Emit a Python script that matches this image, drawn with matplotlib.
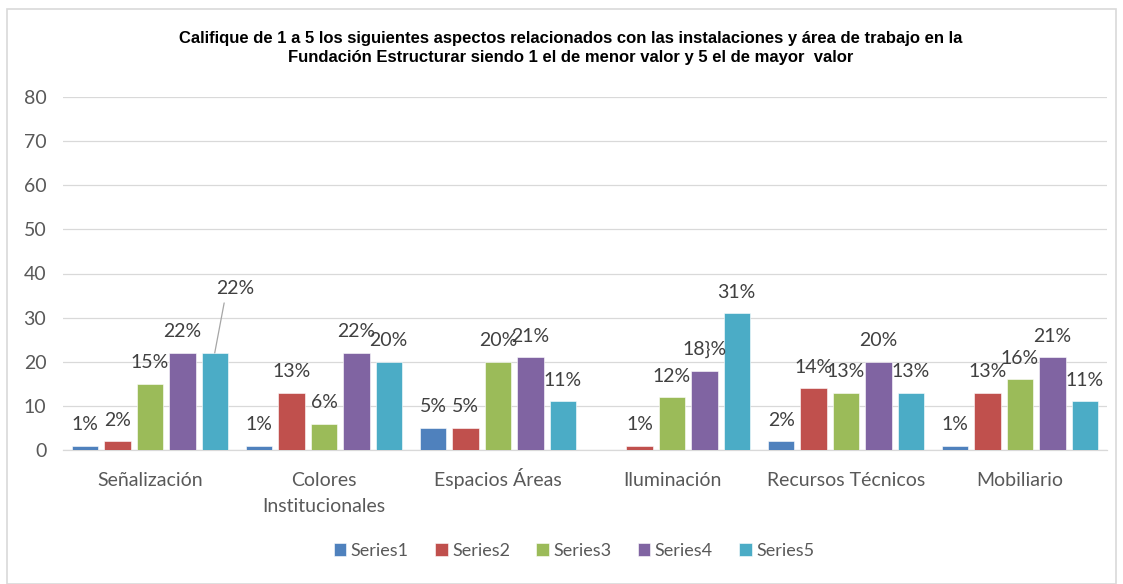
import matplotlib
matplotlib.use("Agg")
import matplotlib.pyplot as plt
from matplotlib.patches import Rectangle
import numpy as np

categories = ["Señalización", "Colores\nInstitucionales", "Espacios Áreas",
              "Iluminación", "Recursos Técnicos", "Mobiliario"]
series_names = ["Series1", "Series2", "Series3", "Series4", "Series5"]
series1 = [1, 1, 5, 0, 2, 1]
series2 = [2, 13, 5, 1, 14, 13]
series3 = [15, 6, 20, 12, 13, 16]
series4 = [22, 22, 21, 18, 20, 21]
series5 = [22, 20, 11, 31, 13, 11]
yticks = [0, 10, 20, 30, 40, 50, 60, 70, 80]
title = ("Califique de 1 a 5 los siguientes aspectos relacionados con las instalaciones y área de trabajo en la\n"
         "Fundación Estructurar siendo 1 el de menor valor y 5 el de mayor  valor")

colors = ["#4F81BD", "#C0504D", "#9BBB59", "#8064A2", "#4BACC6"]
all_series = [series1, series2, series3, series4, series5]

# label text per bar; one label in the source carries a stray brace
def label_text(si, ci, v):
    if si == 3 and ci == 3:
        return f"{v}}}%"
    return f"{v}%"

W, H = 1123, 584
fig = plt.figure(figsize=(W / 100, H / 100), dpi=100)
fig.patch.set_facecolor("white")

# outer chart frame
fig.add_artist(Rectangle((7 / W, 0.0), (1116 - 7) / W, (H - 9) / H,
                         transform=fig.transFigure, fill=False,
                         edgecolor="#D9D9D9", linewidth=1.2))

ax = fig.add_axes([63 / W, (H - 450) / H, (1107 - 63) / W, (450 - 97) / H])
font = "Lato"
txt_col = "#595959"
lab_col = "#404040"
fs = 14

x = np.arange(len(categories))
pitch = 0.186
bw = 0.152
for si, (vals, col) in enumerate(zip(all_series, colors)):
    pos = x + (si - 2) * pitch
    ax.bar(pos, vals, width=bw, color=col, edgecolor="white", linewidth=0.4,
           label=series_names[si], zorder=3)
    for ci, (px, v) in enumerate(zip(pos, vals)):
        if v <= 0:
            continue
        if si == 4 and ci == 0:
            # label pulled up with a leader line
            ax.annotate(label_text(si, ci, v), xy=(px, v), xytext=(20, 64),
                        textcoords="offset pixels", ha="center", va="center",
                        fontsize=fs, color=lab_col, family=font, zorder=5,
                        arrowprops=dict(arrowstyle="-", color="#A6A6A6", lw=0.9,
                                        relpos=(0.25, 0.0), shrinkA=2, shrinkB=0))
        else:
            ax.annotate(label_text(si, ci, v), xy=(px, v), xytext=(0, 21),
                        textcoords="offset pixels", ha="center", va="center",
                        fontsize=fs, color=lab_col, family=font, zorder=5)

ax.set_xlim(-0.5, len(categories) - 0.5)
ax.set_ylim(0, 80)
ax.set_yticks(yticks)
ax.set_xticks(x)
ax.set_xticklabels([])
# category names, each line set on a common baseline
for xi, name in zip(x, categories):
    for li, line in enumerate(name.split("\n")):
        ax.annotate(line, xy=(xi, 0), xycoords=("data", "axes fraction"),
                    xytext=(0, -36 - 26 * li), textcoords="offset pixels",
                    ha="center", va="baseline", fontsize=fs, color=txt_col,
                    family=font, annotation_clip=False)
ax.tick_params(axis="y", length=0, pad=12, labelsize=fs, labelcolor=txt_col)
ax.tick_params(axis="x", length=0)
for t in ax.get_yticklabels():
    t.set_family(font)
ax.grid(axis="y", color="#D9D9D9", linewidth=0.9, zorder=0)
for s in ["top", "right", "left"]:
    ax.spines[s].set_visible(False)
ax.spines["bottom"].set_color("#D9D9D9")
ax.spines["bottom"].set_linewidth(0.9)

fig.text(571 / W, 1 - 48 / H, title, ha="center", va="center", fontsize=12,
         fontweight="bold", family="Liberation Sans", linespacing=1.38)

leg = fig.legend(loc="center", bbox_to_anchor=(574 / W, 1 - 551 / H), ncol=5,
                 frameon=False, handlelength=0.7, handleheight=0.7,
                 handletextpad=0.25, columnspacing=1.45,
                 prop={"family": font, "size": 13})
for t in leg.get_texts():
    t.set_color(txt_col)

fig.savefig("out.png", dpi=100)
